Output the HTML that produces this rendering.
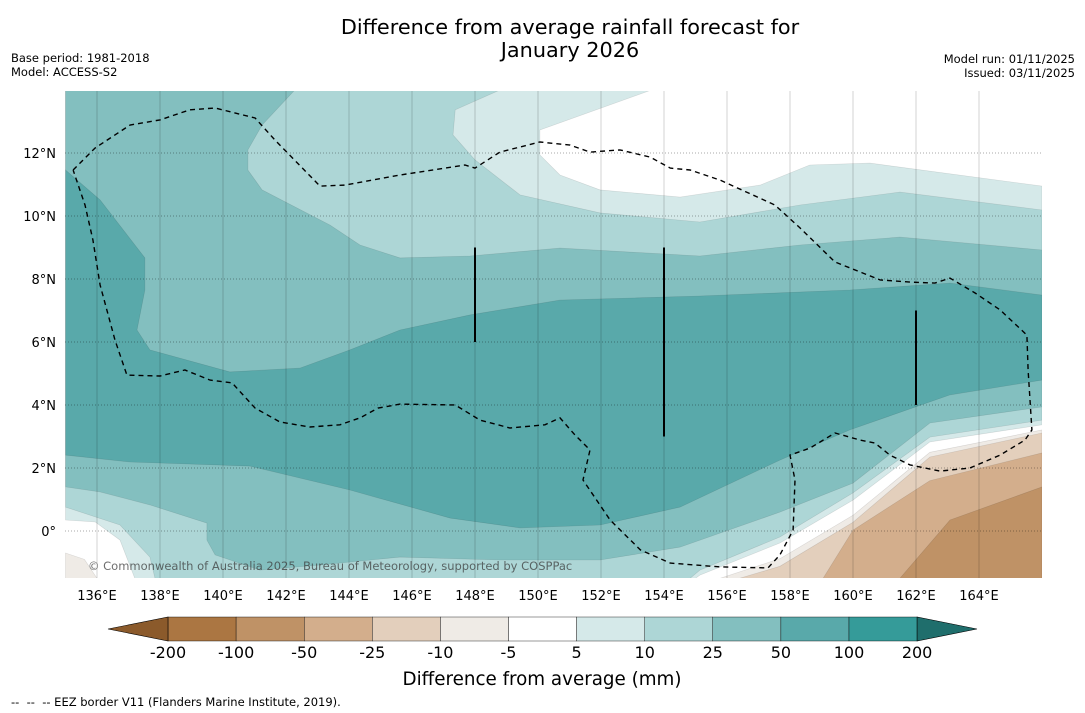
<!DOCTYPE html>
<html><head><meta charset="utf-8"><style>
body{margin:0;background:#fff;width:1085px;height:713px;overflow:hidden;font-family:"DejaVu Sans","Liberation Sans",sans-serif;}
svg{display:block}
</style></head><body>
<svg id="s" width="1085" height="713" xmlns="http://www.w3.org/2000/svg" font-family="DejaVu Sans, Liberation Sans, sans-serif">
<text x="570" y="34" text-anchor="middle" font-size="20.8">Difference from average rainfall forecast for</text>
<text x="570" y="57" text-anchor="middle" font-size="20.8">January 2026</text>
<text x="11" y="62" font-size="11.5">Base period: 1981-2018</text>
<text x="11" y="76" font-size="11.5">Model: ACCESS-S2</text>
<text x="1075" y="63" font-size="11.5" text-anchor="end">Model run: 01/11/2025</text>
<text x="1075" y="77" font-size="11.5" text-anchor="end">Issued: 03/11/2025</text>
<g id="map"></g>
<g id="cb"></g>
<text x="542" y="685" text-anchor="middle" font-size="18.3">Difference from average (mm)</text>
<text x="11" y="706" font-size="11.5">-- &#160;-- &#160;-- EEZ border V11 (Flanders Marine Institute, 2019).</text>
</svg>
<script>
const lonTicks=[136,138,140,142,144,146,148,150,152,154,156,158,160,162,164];
const latTicks=[12,10,8,6,4,2,0];
const levelLabels=["-200","-100","-50","-25","-10","-5","5","10","25","50","100","200"];
const levelColors=["#ab7642","#bf9266","#d3ae8c","#e3cfbc","#efebe6","#ffffff","#d5e9e9","#add6d6","#83bfbf","#59a9aa","#359b99"];
const ge5=[[135,14],[153.6,14],[150.06,12.73],[150.06,11.94],[150.7,11.3],[151.97,10.83],[154.51,10.6],[157.05,10.98],[158.63,11.62],[160.54,11.68],[166,10.95],[166,3.37],[162.44,2.83],[160,0.98],[157.68,-0.38],[155.14,-1.4],[155.0,-1.5],[137.2,-1.5],[136.73,-0.29],[135.94,0.29],[135,0.35]];
const ge10=[[148.79,14],[147.37,13.37],[147.3,12.57],[148.0,11.78],[149.43,10.67],[151.97,10.1],[155.14,9.81],[158.32,10.35],[161.49,10.76],[166,10.19],[166,3.52],[162.44,2.98],[160,1.21],[157.68,-0.19],[155.14,-1.24],[154.83,-1.5],[137.84,-1.5],[137.68,-0.83],[136.73,0.19],[135,0.76],[135,14]];
const ge25=[[135,14],[142.28,14],[141.24,12.89],[140.79,12.1],[140.79,11.46],[141.24,10.83],[143.4,9.71],[144.35,9.08],[145.62,8.67],[147.84,8.73],[150.7,8.98],[155.14,8.73],[158.32,9.08],[161.49,9.33],[166,8.92],[166,3.94],[162.44,3.43],[160,1.52],[157.68,0.6],[154.51,-0.51],[151.97,-0.92],[148.79,-0.92],[145.62,-0.83],[143.08,-1.08],[141.17,-1.24],[139.75,-0.76],[139.49,-0.29],[139.49,0.25],[137.68,0.83],[136.1,1.24],[135,1.4]];
const ge50=[[135,11.46],[136.1,10.51],[137.52,8.67],[137.52,7.65],[137.27,6.38],[137.68,5.75],[140.22,5.05],[142.44,5.17],[144.03,5.75],[145.62,6.38],[147.84,6.86],[150.7,7.33],[155.14,7.46],[159.9,7.65],[163.08,7.87],[166,7.49],[166,4.79],[163.08,4.32],[159.9,3.21],[157.68,2.25],[154.51,0.76],[151.97,0.19],[149.43,0.1],[147.21,0.41],[144.03,1.3],[140.86,2.06],[137.05,2.19],[135,2.41]];
const le5=[[166,3.21],[162.44,2.5],[160,0.5],[157.68,-0.88],[155.78,-1.5],[166,-1.5]];
const le10=[[166,3.11],[162.44,2.35],[160,0.28],[157.68,-1.12],[156.4,-1.5],[166,-1.5]];
const le25=[[166,2.48],[162.44,1.6],[160,0.03],[159.05,-1.5],[166,-1.5]];
const le50=[[166,1.4],[163.08,0.35],[161.49,-1.5],[166,-1.5]];
const leftGrey=[[135,-0.7],[135.6,-0.9],[136.0,-1.5],[135,-1.5]];
const eez=[[135.24,11.46],[135.94,12.16],[137.05,12.89],[138.0,13.05],[138.95,13.37],[139.75,13.43],[141.02,13.11],[141.65,12.41],[143.08,10.95],[143.87,10.98],[145.62,11.3],[147.68,11.62],[148.0,11.52],[148.79,12.03],[150.06,12.35],[151.02,12.25],[151.65,12.03],[152.6,12.1],[153.56,11.87],[154.2,11.52],[154.83,11.46],[155.78,11.14],[157.52,10.35],[158.32,9.62],[159.43,8.54],[160.86,7.97],[161.81,7.9],[162.6,7.87],[163.08,8.03],[163.87,7.56],[164.67,7.02],[165.52,6.22],[165.56,5.11],[165.68,3.21],[165.46,2.89],[164.67,2.41],[163.71,2.0],[162.76,1.9],[161.81,2.1],[161.17,2.41],[160.7,2.79],[160.22,2.89],[159.43,3.11],[158.63,2.63],[158.0,2.41],[158.16,1.62],[158.1,0.03],[157.68,-0.76],[157.3,-1.17],[155.78,-1.14],[154.2,-1.02],[153.25,-0.6],[152.29,0.35],[151.43,1.62],[151.65,2.57],[151.17,3.05],[150.7,3.59],[150.22,3.37],[149.11,3.27],[148.16,3.52],[147.37,4.0],[145.62,4.03],[144.92,3.9],[144.35,3.59],[143.71,3.37],[142.76,3.3],[141.81,3.46],[141.02,3.9],[140.29,4.7],[139.59,4.79],[138.79,5.11],[138.0,4.92],[136.95,4.95],[136.57,6.06],[136.1,7.81],[135.87,9.24],[135.62,10.35],[135.24,11.46]];
const segments=[[148,9,6],[154,9,3],[162,7,4]];

const NS='http://www.w3.org/2000/svg';
const X0=65.5,Y12=153,K=31.5;
function xs(lon){return X0+(lon-135)*K;}
function ys(lat){return Y12-(lat-12)*K;}
function mk(tag,attrs,parent){const e=document.createElementNS(NS,tag);for(const k in attrs)e.setAttribute(k,attrs[k]);parent.appendChild(e);return e;}
const map=document.getElementById('map');
const clip=mk('clipPath',{id:'mc'},mk('defs',{},map));
mk('rect',{x:65,y:91,width:977,height:487},clip);
const g=mk('g',{'clip-path':'url(#mc)'},map);
mk('rect',{x:65,y:91,width:977,height:487,fill:'#fff'},g);
function poly(pts,fill,name){const p=mk('polygon',{points:pts.map(q=>xs(q[0]).toFixed(1)+','+ys(q[1]).toFixed(1)).join(' '),fill:fill,stroke:'rgba(0,0,0,0.12)','stroke-width':0.6},g);

}
poly(ge5,levelColors[6],'contour-5-10');
poly(ge10,levelColors[7],'contour-10-25');
poly(ge25,levelColors[8],'contour-25-50');
poly(ge50,levelColors[9],'contour-50-100');
poly(le5,levelColors[4],'contour-minus5-minus10');
poly(le10,levelColors[3],'contour-minus10-minus25');
poly(le25,levelColors[2],'contour-minus25-minus50');
poly(le50,levelColors[1],'contour-minus50-minus100');
poly(leftGrey,levelColors[4],'contour-left-grey');
lonTicks.forEach(l=>{const ln=mk('line',{x1:xs(l),x2:xs(l),y1:91,y2:578,stroke:'rgba(0,0,0,0.22)','stroke-width':0.8},g);

});
latTicks.forEach(l=>{const ln=mk('line',{x1:65,x2:1042,y1:ys(l),y2:ys(l),stroke:'rgba(0,0,0,0.45)','stroke-width':0.8,'stroke-dasharray':'1,2'},g);

});
const ez=mk('polyline',{points:eez.map(q=>xs(q[0]).toFixed(1)+','+ys(q[1]).toFixed(1)).join(' '),fill:'none',stroke:'#000','stroke-width':1.4,'stroke-dasharray':'5,4'},g);


segments.forEach(s=>{const ln=mk('line',{x1:xs(s[0]),x2:xs(s[0]),y1:ys(s[1]),y2:ys(s[2]),stroke:'#000','stroke-width':2},g);

});
const cp=mk('text',{x:88,y:570,'font-size':11.5,fill:'rgba(60,60,60,0.75)'},g);
cp.textContent='© Commonwealth of Australia 2025, Bureau of Meteorology, supported by COSPPac';


lonTicks.forEach(l=>{const t=mk('text',{x:xs(l),y:600,'font-size':13,'text-anchor':'middle'},map);t.textContent=l+'°E';

});
latTicks.forEach(l=>{const t=mk('text',{x:56,y:ys(l)+5,'font-size':13,'text-anchor':'end'},map);t.textContent=l===0?'0°':l+'°N';

});
const cb=document.getElementById('cb');
const cx0=168,cw=68.1,cy=617,ch=24;
levelColors.forEach((c,i)=>{const r=mk('rect',{x:cx0+i*cw,y:cy,width:cw,height:ch,fill:c,stroke:'#000','stroke-width':0.4},cb);

});
const lt=mk('polygon',{points:`${cx0},${cy} ${cx0},${cy+ch} 108,${cy+ch/2}`,fill:'#8b5a2b',stroke:'#000','stroke-width':0.6},cb);


const xe=cx0+levelColors.length*cw;
const rt=mk('polygon',{points:`${xe},${cy} ${xe},${cy+ch} 977,${cy+ch/2}`,fill:'#1f6e6c',stroke:'#000','stroke-width':0.6},cb);


levelLabels.forEach((l,i)=>{const t=mk('text',{x:cx0+i*cw,y:658,'font-size':16,'text-anchor':'middle'},cb);t.textContent=l;

});
</script>
</body></html>
